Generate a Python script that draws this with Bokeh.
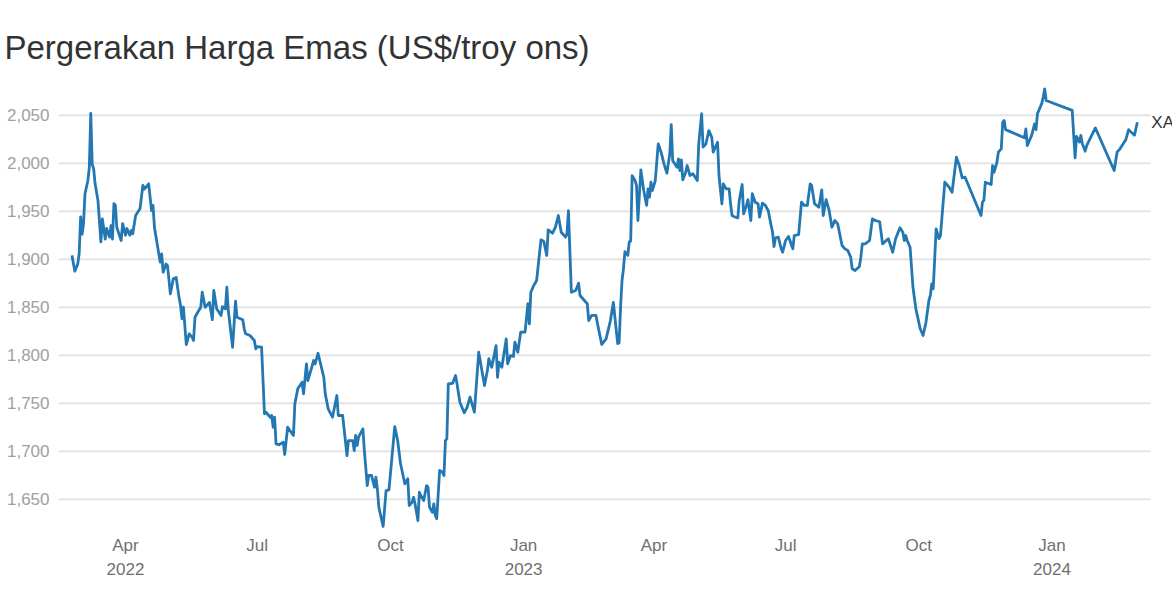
import pandas as pd
from bokeh.plotting import figure
from bokeh.models import Range1d, FixedTicker, NumeralTickFormatter, Label, ColumnDataSource
from bokeh.embed import file_html
from bokeh.resources import INLINE

chart_title = "Pergerakan Harga Emas (US$/troy ons)"
series_name = "XAU"

dates = [
    "2022-02-23", "2022-02-25", "2022-02-27", "2022-02-28", "2022-03-01", "2022-03-02", "2022-03-03", "2022-03-04",
    "2022-03-06", "2022-03-07", "2022-03-08", "2022-03-09", "2022-03-10", "2022-03-11", "2022-03-13", "2022-03-15",
    "2022-03-16", "2022-03-18", "2022-03-19", "2022-03-21", "2022-03-22", "2022-03-23", "2022-03-24", "2022-03-25",
    "2022-03-26", "2022-03-29", "2022-03-30", "2022-04-01", "2022-04-02", "2022-04-04", "2022-04-05", "2022-04-06",
    "2022-04-08", "2022-04-11", "2022-04-13", "2022-04-14", "2022-04-17", "2022-04-19", "2022-04-20", "2022-04-21",
    "2022-04-24", "2022-04-25", "2022-04-26", "2022-04-27", "2022-04-29", "2022-04-30", "2022-05-02", "2022-05-04",
    "2022-05-06", "2022-05-08", "2022-05-09", "2022-05-10", "2022-05-11", "2022-05-13", "2022-05-15", "2022-05-17",
    "2022-05-18", "2022-05-19", "2022-05-21", "2022-05-23", "2022-05-24", "2022-05-26", "2022-05-29", "2022-05-31",
    "2022-06-01", "2022-06-03", "2022-06-06", "2022-06-07", "2022-06-09", "2022-06-10", "2022-06-11", "2022-06-14",
    "2022-06-16", "2022-06-17", "2022-06-21", "2022-06-22", "2022-06-23", "2022-06-26", "2022-06-29", "2022-06-30",
    "2022-07-01", "2022-07-04", "2022-07-06", "2022-07-07", "2022-07-10", "2022-07-11", "2022-07-12", "2022-07-13",
    "2022-07-14", "2022-07-16", "2022-07-19", "2022-07-20", "2022-07-22", "2022-07-26", "2022-07-27", "2022-07-29",
    "2022-08-01", "2022-08-02", "2022-08-04", "2022-08-05", "2022-08-09", "2022-08-10", "2022-08-12", "2022-08-16",
    "2022-08-17", "2022-08-19", "2022-08-22", "2022-08-25", "2022-08-26", "2022-08-29", "2022-09-01", "2022-09-02",
    "2022-09-05", "2022-09-06", "2022-09-07", "2022-09-08", "2022-09-09", "2022-09-12", "2022-09-13", "2022-09-15",
    "2022-09-16", "2022-09-18", "2022-09-20", "2022-09-21", "2022-09-22", "2022-09-23", "2022-09-26", "2022-09-28",
    "2022-09-30", "2022-10-04", "2022-10-06", "2022-10-08", "2022-10-10", "2022-10-11", "2022-10-13", "2022-10-14",
    "2022-10-16", "2022-10-17", "2022-10-18", "2022-10-20", "2022-10-21", "2022-10-22", "2022-10-24", "2022-10-26",
    "2022-10-27", "2022-10-28", "2022-10-30", "2022-10-31", "2022-11-01", "2022-11-02", "2022-11-04", "2022-11-06",
    "2022-11-07", "2022-11-08", "2022-11-09", "2022-11-10", "2022-11-13", "2022-11-15", "2022-11-16", "2022-11-18",
    "2022-11-21", "2022-11-23", "2022-11-25", "2022-11-28", "2022-12-01", "2022-12-02", "2022-12-05", "2022-12-07",
    "2022-12-08", "2022-12-10", "2022-12-13", "2022-12-14", "2022-12-15", "2022-12-17", "2022-12-20", "2022-12-21",
    "2022-12-23", "2022-12-25", "2022-12-26", "2022-12-28", "2022-12-30", "2023-01-02", "2023-01-04", "2023-01-05",
    "2023-01-06", "2023-01-08", "2023-01-10", "2023-01-13", "2023-01-15", "2023-01-17", "2023-01-18", "2023-01-21",
    "2023-01-23", "2023-01-25", "2023-01-27", "2023-01-30", "2023-01-31", "2023-02-01", "2023-02-03", "2023-02-06",
    "2023-02-08", "2023-02-09", "2023-02-12", "2023-02-14", "2023-02-15", "2023-02-17", "2023-02-20", "2023-02-22",
    "2023-02-24", "2023-02-27", "2023-03-02", "2023-03-04", "2023-03-07", "2023-03-08", "2023-03-09", "2023-03-10",
    "2023-03-11", "2023-03-12", "2023-03-14", "2023-03-15", "2023-03-16", "2023-03-17", "2023-03-19", "2023-03-20",
    "2023-03-21", "2023-03-23", "2023-03-25", "2023-03-27", "2023-03-28", "2023-03-29", "2023-03-30", "2023-03-31",
    "2023-04-02", "2023-04-04", "2023-04-06", "2023-04-08", "2023-04-10", "2023-04-12", "2023-04-13", "2023-04-14",
    "2023-04-17", "2023-04-18", "2023-04-19", "2023-04-20", "2023-04-21", "2023-04-23", "2023-04-24", "2023-04-26",
    "2023-04-28", "2023-05-01", "2023-05-02", "2023-05-04", "2023-05-05", "2023-05-07", "2023-05-09", "2023-05-11",
    "2023-05-12", "2023-05-15", "2023-05-16", "2023-05-18", "2023-05-19", "2023-05-21", "2023-05-23", "2023-05-24",
    "2023-05-25", "2023-05-27", "2023-05-29", "2023-05-30", "2023-06-01", "2023-06-02", "2023-06-04", "2023-06-05",
    "2023-06-07", "2023-06-08", "2023-06-10", "2023-06-12", "2023-06-13", "2023-06-15", "2023-06-17", "2023-06-19",
    "2023-06-21", "2023-06-22", "2023-06-23", "2023-06-24", "2023-06-26", "2023-06-28", "2023-06-29", "2023-07-01",
    "2023-07-03", "2023-07-04", "2023-07-06", "2023-07-07", "2023-07-10", "2023-07-12", "2023-07-14", "2023-07-16",
    "2023-07-18", "2023-07-19", "2023-07-21", "2023-07-24", "2023-07-26", "2023-07-27", "2023-07-29", "2023-07-31",
    "2023-08-02", "2023-08-04", "2023-08-06", "2023-08-09", "2023-08-11", "2023-08-13", "2023-08-15", "2023-08-16",
    "2023-08-18", "2023-08-21", "2023-08-22", "2023-08-23", "2023-08-25", "2023-08-28", "2023-08-30", "2023-09-01",
    "2023-09-04", "2023-09-06", "2023-09-08", "2023-09-10", "2023-09-13", "2023-09-15", "2023-09-18", "2023-09-20",
    "2023-09-21", "2023-09-22", "2023-09-23", "2023-09-25", "2023-09-27", "2023-09-29", "2023-10-02", "2023-10-04",
    "2023-10-06", "2023-10-08", "2023-10-09", "2023-10-10", "2023-10-11", "2023-10-13", "2023-10-14", "2023-10-15",
    "2023-10-16", "2023-10-19", "2023-10-22", "2023-10-24", "2023-10-27", "2023-10-29", "2023-10-31", "2023-11-02",
    "2023-11-13", "2023-11-14", "2023-11-15", "2023-11-16", "2023-11-20", "2023-11-21", "2023-11-22", "2023-11-24",
    "2023-11-25", "2023-11-27", "2023-11-28", "2023-11-29", "2023-11-30", "2023-12-13", "2023-12-14", "2023-12-15",
    "2023-12-18", "2023-12-20", "2023-12-21", "2023-12-22", "2023-12-25", "2023-12-26", "2023-12-27", "2023-12-28",
    "2024-01-15", "2024-01-17", "2024-01-18", "2024-01-20", "2024-01-21", "2024-01-22", "2024-01-24", "2024-01-25",
    "2024-01-31", "2024-02-13", "2024-02-15", "2024-02-17", "2024-02-20", "2024-02-21", "2024-02-23", "2024-02-27",
    "2024-02-29",
]

prices = [
    1904, 1887.5, 1895, 1906, 1944, 1926, 1937, 1968,
    1982, 1996, 2052, 1999, 1994, 1978.5, 1961, 1918,
    1942, 1921, 1932, 1923, 1935, 1921, 1958, 1956,
    1933, 1919.5, 1937, 1925, 1932, 1925, 1930, 1926.5,
    1945.5, 1952.5, 1977, 1973, 1978.5, 1950.7, 1956, 1933,
    1905.6, 1897, 1905.6, 1886.5, 1895, 1893.5, 1864, 1879.6,
    1881, 1860, 1852, 1838, 1850, 1811, 1822.3, 1818.8,
    1815.3, 1839.6, 1845, 1850, 1865.6, 1850, 1855, 1837,
    1867.4, 1848.3, 1841.4, 1850.7, 1848.3, 1871, 1846.6, 1808.3,
    1856.3, 1839.6, 1837, 1827.5, 1822.3, 1820.5, 1815.3, 1806.7,
    1809, 1808.3, 1739, 1740.6, 1735.4, 1737.2, 1725, 1735.4,
    1707.7, 1706.7, 1709.4, 1696.6, 1725, 1716.4, 1749.4, 1765,
    1771.9, 1759.8, 1791, 1773.6, 1794.5, 1791, 1802, 1777,
    1759.8, 1744.2, 1735.4, 1758, 1737.2, 1737.2, 1695.5, 1711,
    1711, 1700.7, 1716.4, 1706, 1714.6, 1723.3, 1700.7, 1664.2,
    1674.7, 1674.7, 1662.5, 1672.9, 1660.8, 1641.7, 1621.6, 1659,
    1659.8, 1725.7, 1711, 1686.9, 1672.9, 1666, 1671.3, 1643.4,
    1646.9, 1652, 1645.2, 1627.8, 1657.3, 1653.9, 1648.6, 1664.2,
    1662.5, 1641.7, 1636.4, 1645.2, 1633, 1629.6, 1679.9, 1678.1,
    1674.7, 1711, 1713, 1770.2, 1770.8, 1778.9, 1770.2, 1751,
    1740, 1745.8, 1756.3, 1740.6, 1803.1, 1794.5, 1768.4, 1784,
    1796.3, 1787.5, 1810, 1777, 1792.7, 1787.5, 1817, 1791,
    1799.7, 1798.7, 1813.5, 1803.1, 1824, 1824, 1853.6, 1832.7,
    1865.6, 1872.6, 1877.8, 1920.2, 1918.5, 1903.9, 1930.6, 1927.1,
    1933.4, 1945.5, 1928.1, 1923, 1926.5, 1950.7, 1865.6, 1867.4,
    1875, 1862.2, 1857, 1853.6, 1836.1, 1841.4, 1841.4, 1825.7,
    1811.2, 1817, 1836.1, 1855, 1812, 1813, 1850, 1877.8,
    1890, 1908, 1904, 1918, 1919, 1987, 1982, 1977,
    1940.3, 1993, 1971.6, 1956, 1973.3, 1964.6, 1980.2, 1971.6,
    1982, 2020.2, 2011.5, 1999.4, 1989.6, 2009.8, 2040.3, 2002.8,
    1995.8, 2004.6, 1992.4, 2003.5, 1982.7, 1990.6, 1997.6, 1987.2,
    1989, 1982, 2020.2, 2051.5, 2016.7, 2020.2, 2034, 2027,
    2011.5, 2021.9, 1987.2, 1957.7, 1978.5, 1973.3, 1973.3, 1957.7,
    1945.5, 1944, 1943, 1961.2, 1977.8, 1947.3, 1956, 1962.1,
    1940.3, 1968.2, 1959.4, 1957.7, 1943.8, 1958.4, 1956, 1950.7,
    1935.1, 1928.1, 1913.2, 1922.2, 1922.9, 1910.8, 1907.3, 1919.5,
    1923.7, 1919.5, 1910.8, 1924.7, 1925.7, 1959.4, 1956, 1956,
    1978.5, 1976.8, 1957.7, 1954.2, 1972.3, 1945.5, 1962.1, 1951.5,
    1933.4, 1940.3, 1936.8, 1914.3, 1910.8, 1909, 1902.1, 1890,
    1888.2, 1892.4, 1902.1, 1916, 1916, 1919.5, 1942, 1940.3,
    1939, 1916, 1918.8, 1921.3, 1907.3, 1921.3, 1932.8, 1928.1,
    1919.5, 1924.7, 1919.5, 1912.5, 1870.8, 1848.3, 1827.5, 1820.5,
    1834.4, 1857, 1862.2, 1874.4, 1869.2, 1931.6, 1926.5, 1921.3,
    1924.7, 1980.2, 1975, 1969.8, 2006.2, 1997.6, 1984.8, 1985.4,
    1945.5, 1959.4, 1961.2, 1980.2, 1977.8, 1997.6, 1990.6, 2001,
    2011.5, 2015, 2042.7, 2044.5, 2035, 2026.5, 2035.8, 2018.4,
    2029, 2041, 2035, 2051.5, 2062.3, 2069, 2077.5, 2065.3,
    2055, 2005.6, 2028, 2022, 2029, 2020.2, 2012.5, 2018.4,
    2036.8, 1992.4, 2011.5, 2015, 2022, 2024.3, 2035, 2029,
    2042.7,
]

y_ticks = [1650, 1700, 1750, 1800, 1850, 1900, 1950, 2000, 2050]
x_tick_dates = ["2022-04-01", "2022-07-01", "2022-10-01", "2023-01-01",
                "2023-04-01", "2023-07-01", "2023-10-01", "2024-01-01"]
x_tick_labels = ["Apr\n2022", "Jul", "Oct", "Jan\n2023", "Apr", "Jul", "Oct", "Jan\n2024"]

FONT = "Liberation Sans"

# view extents (layout, not data)
X_START = pd.Timestamp("2022-02-13 17:00")
X_GRID_END = pd.Timestamp("2024-03-09 02:00")
X_END = pd.Timestamp("2024-03-24 07:00")
Y_START, Y_END = 1617.4, 2082

x_vals = pd.to_datetime(dates)
source = ColumnDataSource(data=dict(date=x_vals, price=prices))

p = figure(
    frame_width=1114, frame_height=446,
    x_axis_type="datetime",
    x_range=Range1d(X_START, X_END),
    y_range=Range1d(Y_START, Y_END),
    output_backend="svg", toolbar_location=None,
    min_border_left=58, min_border_right=0, min_border_top=84, min_border_bottom=10,
)
p.outline_line_color = None
p.background_fill_color = "white"
p.border_fill_color = "white"

p.title.text = chart_title
p.title.text_font = FONT
p.title.text_font_size = "33px"
p.title.text_font_style = "normal"
p.title.text_color = "#333333"
p.title.align = "left"
p.title.offset = -54
p.title.standoff = 38

# horizontal grid lines, drawn from the tick values up to the grid end
n = len(y_ticks)
p.segment(x0=[X_START] * n, x1=[X_GRID_END] * n, y0=y_ticks, y1=y_ticks,
          line_color="#e4e4e4", line_width=2)
p.xgrid.visible = False
p.ygrid.visible = False

p.line("date", "price", source=source, line_color="#2377b2", line_width=2.8, line_join="round")

# y axis
p.yaxis.ticker = FixedTicker(ticks=y_ticks)
p.yaxis.formatter = NumeralTickFormatter(format="0,0")
p.yaxis.axis_line_color = None
p.yaxis.major_tick_line_color = None
p.yaxis.minor_tick_line_color = None
p.yaxis.major_tick_out = 0
p.yaxis.major_tick_in = 0
p.yaxis.minor_tick_out = 0
p.yaxis.major_label_text_font = FONT
p.yaxis.major_label_text_font_size = "17px"
p.yaxis.major_label_text_color = "#a0a0a0"
p.yaxis.major_label_standoff = 9

# x axis
tick_ms = [pd.Timestamp(d).value / 1e6 for d in x_tick_dates]
p.xaxis.ticker = FixedTicker(ticks=tick_ms)
p.xaxis.major_label_overrides = {t: lab for t, lab in zip(tick_ms, x_tick_labels)}
p.xaxis.axis_line_color = None
p.xaxis.major_tick_line_color = None
p.xaxis.minor_tick_line_color = None
p.xaxis.major_tick_out = 0
p.xaxis.major_tick_in = 0
p.xaxis.minor_tick_out = 0
p.xaxis.major_label_text_font = FONT
p.xaxis.major_label_text_font_size = "17px"
p.xaxis.major_label_text_color = "#707070"
p.xaxis.major_label_text_line_height = 1.3
p.xaxis.major_label_standoff = 5

end_label = Label(x=x_vals[-1], y=prices[-1], x_offset=14, text=series_name,
                  text_font=FONT, text_font_size="17px", text_color="#333333",
                  text_baseline="middle", text_align="left")
p.add_layout(end_label)

open("out.html", "w").write(file_html(p, INLINE))
